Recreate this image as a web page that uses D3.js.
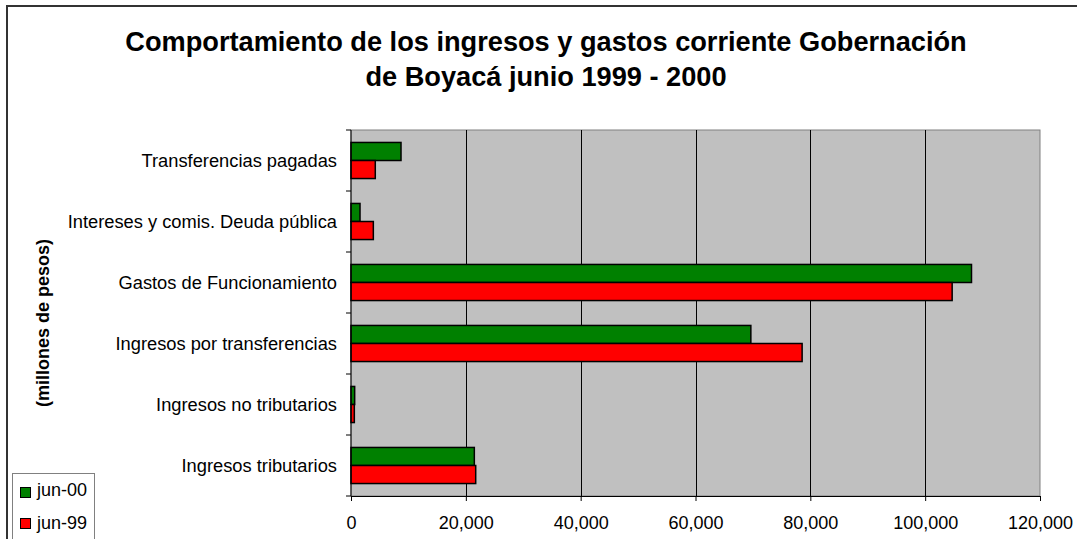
<!DOCTYPE html>
<html><head><meta charset="utf-8">
<script src="https://cdn.jsdelivr.net/npm/d3@7"></script>
<style>html,body{margin:0;padding:0;background:#fff;overflow:hidden}svg{display:block}</style>
</head><body>
<script>
const categories = ["Transferencias pagadas","Intereses y comis. Deuda pública","Gastos de Funcionamiento","Ingresos por transferencias","Ingresos no tributarios","Ingresos tributarios"];
const seriesNames = ["jun-00","jun-99"];
const jun00 = [8710, 1570, 108070, 69640, 640, 21480];
const jun99 = [4230, 3890, 104700, 78570, 580, 21720];
const xTicks = [0,20000,40000,60000,80000,100000,120000];
const colors = ["#008000","#FF0000"];
const title = ["Comportamiento de los ingresos y gastos corriente Gobernación","de Boyacá junio 1999 - 2000"];

const W=1077,H=539;
const svg=d3.select("body").append("svg").attr("width",W).attr("height",H);
const font="Liberation Sans, Arial, sans-serif";

// outer chart border
svg.append("rect").attr("x",7).attr("y",6).attr("width",1090).attr("height",560)
  .attr("fill","#fff").attr("stroke","#333").attr("stroke-width",2);

const L=351,R=1040,T=130,B=496;
const x=d3.scaleLinear().domain([0,120000]).range([L,R]);
const y0=d3.scaleBand().domain(categories).range([T,B]).padding(0);
const y1=d3.scaleBand().domain(seriesNames).range([0,y0.bandwidth()]).paddingInner(0).paddingOuter(0.69);

svg.append("rect").attr("x",L).attr("y",T).attr("width",R-L).attr("height",B-T)
  .attr("fill","#C0C0C0").attr("stroke","#808080").attr("stroke-width",1);

// gridlines
svg.append("g").selectAll("line").data(xTicks.slice(1,-1)).join("line")
  .attr("x1",d=>Math.round(x(d))+0.5).attr("x2",d=>Math.round(x(d))+0.5)
  .attr("y1",T).attr("y2",B).attr("stroke","#000").attr("stroke-width",1);

// bars
const data=categories.map((c,i)=>({c,vals:[jun00[i],jun99[i]]}));
const g=svg.append("g");
data.forEach(d=>{
  d.vals.forEach((v,j)=>{
    g.append("rect").attr("x",x(0)).attr("y",y0(d.c)+y1(seriesNames[j]))
     .attr("width",x(v)-x(0)).attr("height",y1.bandwidth())
     .attr("fill",colors[j]).attr("stroke","#000").attr("stroke-width",1.5);
  });
});

// x axis
const xa=svg.append("g").attr("transform",`translate(0,${B})`)
  .call(d3.axisBottom(x).tickValues(xTicks).tickFormat(d3.format(",")).tickSizeInner(5).tickSizeOuter(0).tickPadding(15));
xa.select(".domain").attr("stroke","#000");
xa.selectAll("line").attr("stroke","#000");
xa.selectAll("text").attr("font-family",font).attr("font-size",18).attr("fill","#000");

// y axis
const ya=svg.append("g").attr("transform",`translate(${L},0)`);
ya.append("line").attr("x1",0).attr("x2",0).attr("y1",T).attr("y2",B).attr("stroke","#000");
const bounds=categories.map(c=>y0(c)).concat([B]);
ya.selectAll("line.t").data(bounds).join("line").attr("class","t")
  .attr("x1",-5).attr("x2",0).attr("y1",d=>d).attr("y2",d=>d).attr("stroke","#000");
ya.selectAll("text").data(categories).join("text")
  .attr("x",-14).attr("y",d=>y0(d)+y0.bandwidth()/2+6)
  .attr("text-anchor","end").attr("font-family",font).attr("font-size",18.3).attr("fill","#000")
  .text(d=>d);

// y label
svg.append("text").attr("transform","translate(49,323) rotate(-90)")
  .attr("text-anchor","middle").attr("font-family",font).attr("font-size",18).attr("font-weight","bold")
  .text("(millones de pesos)");

// title
svg.append("g").selectAll("text").data(title).join("text")
  .attr("x",546).attr("y",(d,i)=>51+i*35).attr("text-anchor","middle")
  .attr("font-family",font).attr("font-size",27.2).attr("font-weight","bold").text(d=>d);

// legend
svg.append("rect").attr("x",12.5).attr("y",473.5).attr("width",82).attr("height",80)
  .attr("fill","#fff").attr("stroke","#808080").attr("stroke-width",1);
const lg=svg.append("g");
seriesNames.forEach((s,j)=>{
  lg.append("rect").attr("x",20.5).attr("y",487.5+j*31).attr("width",10).attr("height",10)
    .attr("fill",colors[j]).attr("stroke","#000").attr("stroke-width",1);
  lg.append("text").attr("x",37).attr("y",496+j*33).attr("font-family",font).attr("font-size",18).text(s);
});
</script>
</body></html>
